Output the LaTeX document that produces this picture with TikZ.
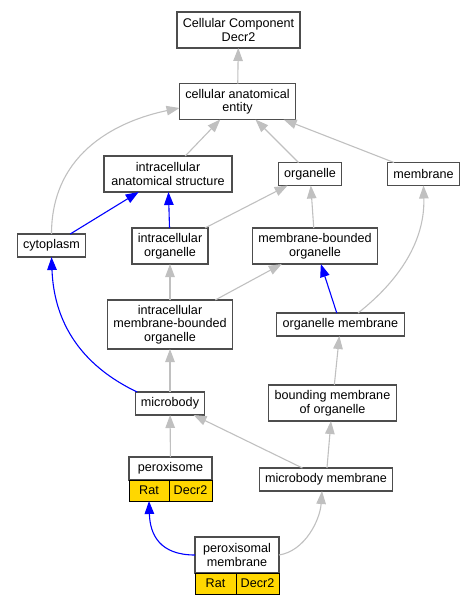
\documentclass[tikz,border=0pt]{standalone}
\usepackage{fontspec}
\setmainfont{Liberation Sans}
\usetikzlibrary{arrows.meta,positioning}
\definecolor{edgegray}{HTML}{C0C0C0}
\definecolor{boxgray}{HTML}{4D4D4D}
\definecolor{gold}{HTML}{FFD700}
\tikzset{
  term/.style={draw=boxgray,line width=1.1pt,fill=white,align=center,
    font=\fontsize{12.6}{13.5}\selectfont,inner xsep=5.8pt,inner ysep=0pt,outer sep=0pt},
  one/.style={term,minimum height=23pt},
  two/.style={term,minimum height=36pt},
  three/.style={term,minimum height=49pt},
  cell/.style={draw=black,fill=gold,line width=0.9pt,minimum height=21pt,inner sep=0pt,
    outer sep=0pt,anchor=north west,font=\fontsize{12.6}{13.5}\selectfont},
  isa/.style={draw=edgegray,line width=1.1pt,-{Triangle[length=13pt,width=9.5pt]}},
  partof/.style={isa,draw=blue}
}
\begin{document}
\begin{tikzpicture}[x=1pt,y=-1pt]
	\useasboundingbox (0,0) rectangle (473,605);
	\node[two] (cc) at (238.5,30) {Cellular Component\\Decr2};
	\node[two] (cae) at (237.5,101.5) {cellular anatomical\\entity};
	\node[two,minimum width=128pt] (ias) at (168,174) {intracellular\\anatomical structure};
	\node[one] (org) at (310,174) {organelle};
	\node[one] (mem) at (423.5,174) {membrane};
	\node[one] (cyto) at (51.5,245.5) {cytoplasm};
	\node[two] (io) at (170,246) {intracellular\\organelle};
	\node[two] (mbo) at (315,246) {membrane-bounded\\organelle};
	\node[three] (imbo) at (170,324.5) {intracellular\\membrane-bounded\\organelle};
	\node[one] (om) at (340.5,324.5) {organelle membrane};
	\node[one] (micro) at (170,403.5) {microbody};
	\node[two] (bmo) at (332.5,403) {bounding membrane\\of organelle};
	\node[one] (mm) at (326,479.5) {microbody membrane};
	% annotated terms
	\node[one,minimum width=83pt] (perox) at (170.5,468.5) {peroxisome};
	\node[cell,minimum width=40pt] (peroxRat) at (perox.south west) {Rat};
	\node[cell,minimum width=43pt] (peroxGene) at (peroxRat.north east) {Decr2};
	\node[two,minimum width=84pt] (pm) at (237,555) {peroxisomal\\membrane};
	\node[cell,minimum width=41pt] (pmRat) at (pm.south west) {Rat};
	\node[cell,minimum width=43pt] (pmGene) at (pmRat.north east) {Decr2};
	% edges
	\draw[isa] (cae) -- (cc);
	\foreach \t in {ias,org,mem} \draw[isa] (\t) -- (cae);
	\draw[isa] (cyto.north) .. controls +(0,-84) and +(-58,12) .. ([yshift=-6.5pt]cae.west);
	\draw[partof] (cyto) -- (ias);
	\draw[partof] (io) -- (ias);
	\draw[isa] (io) -- (org);
	\draw[isa] (mbo) -- (org);
	\draw[isa] (imbo) -- (io);
	\draw[isa] (imbo) -- (mbo);
	\draw[partof] (om) -- (mbo);
	\draw[isa] ([xshift=17.5pt]om.north) .. controls +(42,-33) and +(1.5,55) .. (mem.south);
	\draw[isa] (micro) -- (imbo);
	\draw[partof] ([xshift=2pt]micro.north west) .. controls +(-67,-32) and +(2,53) .. (cyto.south);
	\draw[isa] (bmo) -- (om);
	\draw[isa] (perox) -- (micro);
	\draw[isa] (mm) -- (micro);
	\draw[isa] (mm) -- (bmo);
	\draw[partof] (pm.west) .. controls +(-35,0) and +(1,34) .. (peroxRat.south);
	\draw[isa] (pm.east) .. controls +(26,-4) and +(-2,29) .. ([xshift=-4pt]mm.south);
\end{tikzpicture}
\end{document}
